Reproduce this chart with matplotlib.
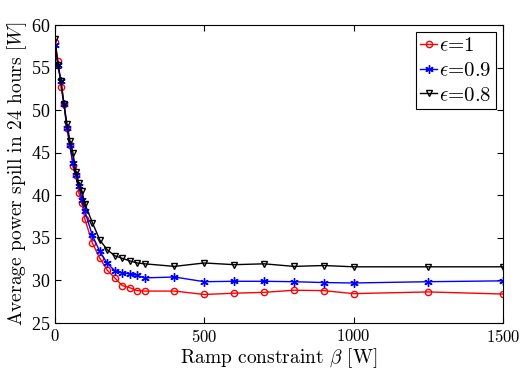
import matplotlib
matplotlib.use("Agg")
import matplotlib.pyplot as plt

plt.rcParams['font.family'] = ['cmr10', 'DejaVu Serif']
plt.rcParams['mathtext.fontset'] = 'cm'
plt.rcParams['axes.formatter.use_mathtext'] = True

beta = [0, 10, 20, 30, 40, 50, 60, 70, 80, 90, 100, 125, 150, 175, 200, 225, 250, 275, 300,
        400, 500, 600, 700, 800, 900, 1000, 1250, 1500]

spill_e1 = [58.05, 55.8, 52.7, 50.7, 47.95, 45.9, 43.45, 42.4, 40.3, 39.1, 37.2, 34.4, 32.6, 31.2,
            30.3, 29.4, 29.15, 28.8, 28.75, 28.75, 28.35, 28.5, 28.6, 28.85, 28.8, 28.45, 28.65, 28.4]
spill_e09 = [57.7, 55.3, 53.4, 50.7, 47.9, 45.9, 43.8, 42.4, 41.05, 39.5, 38.1, 35.3, 33.4, 32.0,
             31.15, 30.9, 30.75, 30.6, 30.3, 30.4, 29.85, 29.9, 29.9, 29.85, 29.75, 29.7, 29.85, 29.95]
spill_e08 = [58.3, 55.3, 53.4, 50.7, 48.4, 46.4, 45.0, 42.7, 41.4, 40.5, 39.0, 36.8, 34.75, 33.6,
             32.9, 32.6, 32.3, 32.05, 31.95, 31.65, 32.05, 31.85, 31.95, 31.65, 31.75, 31.6, 31.6, 31.6]

fig = plt.figure(figsize=(5.2, 3.74), dpi=100)
ax = fig.add_axes([55 / 520, 1 - 323 / 374, 448 / 520, 298 / 374])

ax.plot(beta, spill_e1, color='red', marker='o', markersize=4.5, markerfacecolor='none',
        linewidth=1, label=r'$\epsilon$=1')
ax.plot(beta, spill_e09, color='blue', marker=(6, 2, 0), markersize=6, markeredgewidth=1,
        linewidth=1, label=r'$\epsilon$=0.9')
ax.plot(beta, spill_e08, color='black', marker='v', markersize=5, markerfacecolor='none',
        linewidth=1, label=r'$\epsilon$=0.8')

ax.set_xlim(0, 1500)
ax.set_ylim(25, 60)
ax.set_xticks([0, 500, 1000, 1500])
ax.set_yticks([25, 30, 35, 40, 45, 50, 55, 60])
ax.tick_params(direction='in', top=True, right=True, labelsize=12, length=4)
for t in ax.get_yticklabels():
    t.set_fontfamily('Liberation Serif')
    t.set_fontsize(13)
ax.set_xlabel(r'Ramp constraint $\beta$ [W]', fontsize=14, labelpad=1)
ax.set_ylabel(r'Average power spill in 24 hours [$W$]', fontsize=14, labelpad=1)

leg = ax.legend(loc='upper right', fontsize=15, handlelength=0.8, handletextpad=0.1,
                borderpad=0.2, labelspacing=0.3, borderaxespad=0.35, fancybox=False)
leg.get_frame().set_edgecolor('black')
leg.get_frame().set_linewidth(0.8)
leg.get_frame().set_alpha(1)

fig.savefig('out.png', dpi=100)
